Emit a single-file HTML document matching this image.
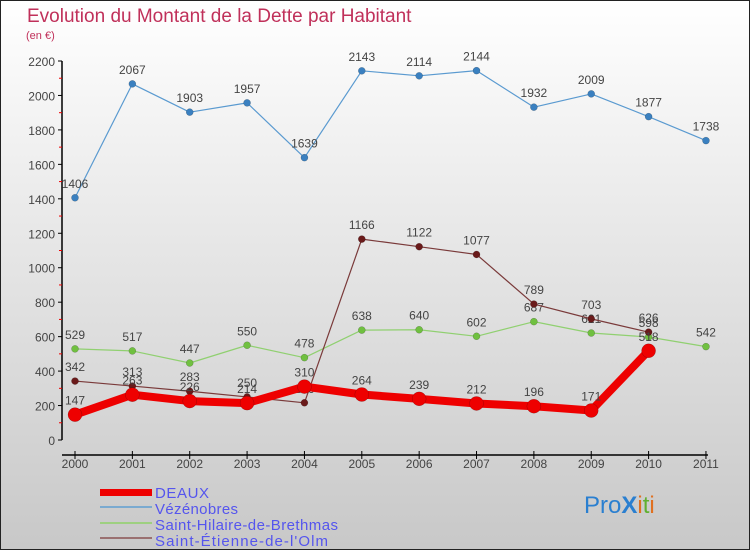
<!DOCTYPE html>
<html><head><meta charset="utf-8"><style>
body{margin:0;width:750px;height:550px;overflow:hidden;font-family:"Liberation Sans",sans-serif}
svg text{font-family:"Liberation Sans",sans-serif}
</style></head><body>
<svg id="chart" width="750" height="550" xmlns="http://www.w3.org/2000/svg">
<defs><linearGradient id="bg" x1="0" y1="0" x2="0" y2="1"><stop offset="0" stop-color="#ffffff"/><stop offset="1" stop-color="#c8c8c8"/></linearGradient></defs>
<rect x="0.5" y="0.5" width="749" height="549" fill="url(#bg)" stroke="#222"/>
<text x="27" y="22" font-size="19" fill="#c0305a">Evolution du Montant de la Dette par Habitant</text>
<text x="26" y="39" font-size="11" fill="#c0305a">(en €)</text>
<g id="axes"></g><g id="series"></g>
<g font-size="15" fill="#5555ee">
<rect x="100" y="489" width="52" height="7" fill="#ee0000"/>
<text x="155" y="498" fill="#5555ee" textLength="54">DEAUX</text>
<line x1="100" x2="152" y1="507" y2="507" stroke="#7aaad0" stroke-width="2"/>
<text x="155" y="514" fill="#5555ee" textLength="83">Vézénobres</text>
<line x1="100" x2="152" y1="523" y2="523" stroke="#9ed080" stroke-width="2"/>
<text x="155" y="530" fill="#5555ee" textLength="183">Saint-Hilaire-de-Brethmas</text>
<line x1="100" x2="152" y1="538" y2="538" stroke="#9a7070" stroke-width="2"/>
<text x="155" y="546" fill="#5555ee" textLength="173">Saint-Étienne-de-l'Olm</text>
</g>
<text x="584" y="513" font-size="24"><tspan fill="#2a7fd0">Pro</tspan><tspan fill="#2a7fd0" font-weight="bold">X</tspan><tspan fill="#e07020">i</tspan><tspan fill="#60b030">t</tspan><tspan fill="#e07020">i</tspan></text>
</svg>
<script>
const years=[2000,2001,2002,2003,2004,2005,2006,2007,2008,2009,2010,2011];
const yTicks=[0,200,400,600,800,1000,1200,1400,1600,1800,2000,2200];
const deaux=[147,263,226,214,310,264,239,212,196,171,518,null];
const vezenobres=[1406,2067,1903,1957,1639,2143,2114,2144,1932,2009,1877,1738];
const hilaire=[529,517,447,550,478,638,640,602,687,621,598,542];
const etienne=[342,313,283,250,216,1166,1122,1077,789,703,626,null];
const NS="http://www.w3.org/2000/svg";
const X=i=>75+i*57.36;
const Y=v=>440-v*(379/2200);
function mk(tag,attrs,parent){const e=document.createElementNS(NS,tag);for(const k in attrs)e.setAttribute(k,attrs[k]);parent.appendChild(e);return e;}
const ax=document.getElementById('axes');
let yl=mk('line',{x1:62,x2:62,y1:Y(2200),y2:440,stroke:'#000','stroke-width':1.5},ax);


yTicks.forEach((t,i)=>{
  mk('line',{x1:58,x2:62,y1:Y(t),y2:Y(t),stroke:'#000'},ax);
  if(i<yTicks.length-1)mk('line',{x1:59,x2:62,y1:Y(t+100),y2:Y(t+100),stroke:'#e00'},ax);
  const tx=mk('text',{x:55,y:Y(t)+5,'font-size':12,'text-anchor':'end',fill:'#444'},ax);
  tx.textContent=t;
  
  
});
let xl=mk('line',{x1:62,x2:X(11)+2,y1:455,y2:455,stroke:'#000','stroke-width':1.5},ax);


years.forEach((yv,i)=>{
  mk('line',{x1:X(i),x2:X(i),y1:451,y2:459,stroke:'#000'},ax);
  const tx=mk('text',{x:X(i),y:468,'font-size':12,'text-anchor':'middle',fill:'#444'},ax);
  tx.textContent=yv;
  
  
});
const sg=document.getElementById('series');
function draw(data,name,color,dot,width,r,labels){
  const g=mk('g',{},sg);
  
  
  const pts=data.map((v,i)=>v==null?null:[X(i),Y(v)]).filter(p=>p);
  const pl=mk('polyline',{points:pts.map(p=>p.join(',')).join(' '),fill:'none',stroke:color,'stroke-width':width,'stroke-linejoin':'round'},g);
  
  
  data.forEach((v,i)=>{
    if(v==null)return;
    const c=mk('circle',{cx:X(i),cy:Y(v),r:r,fill:dot,stroke:'rgba(0,0,0,0.3)','stroke-width':0.5},g);
    
    
    if(labels){
      const t=mk('text',{x:X(i),y:Y(v)-10,'font-size':12,'text-anchor':'middle',fill:'#444'},g);
      t.textContent=v;
      
      
    }
  });
}
draw(vezenobres,'vezenobres','#5a9ad0','#3a80c0',1.2,3.5,true);
draw(hilaire,'saint-hilaire','#90d070','#70c040',1.2,3.5,true);
draw(etienne,'saint-etienne','#7a3a3a','#6a1a1a',1.2,3.5,true);
draw(deaux,'deaux','#ee0000','#ee0000',8,7,true);
</script>
</body></html>
